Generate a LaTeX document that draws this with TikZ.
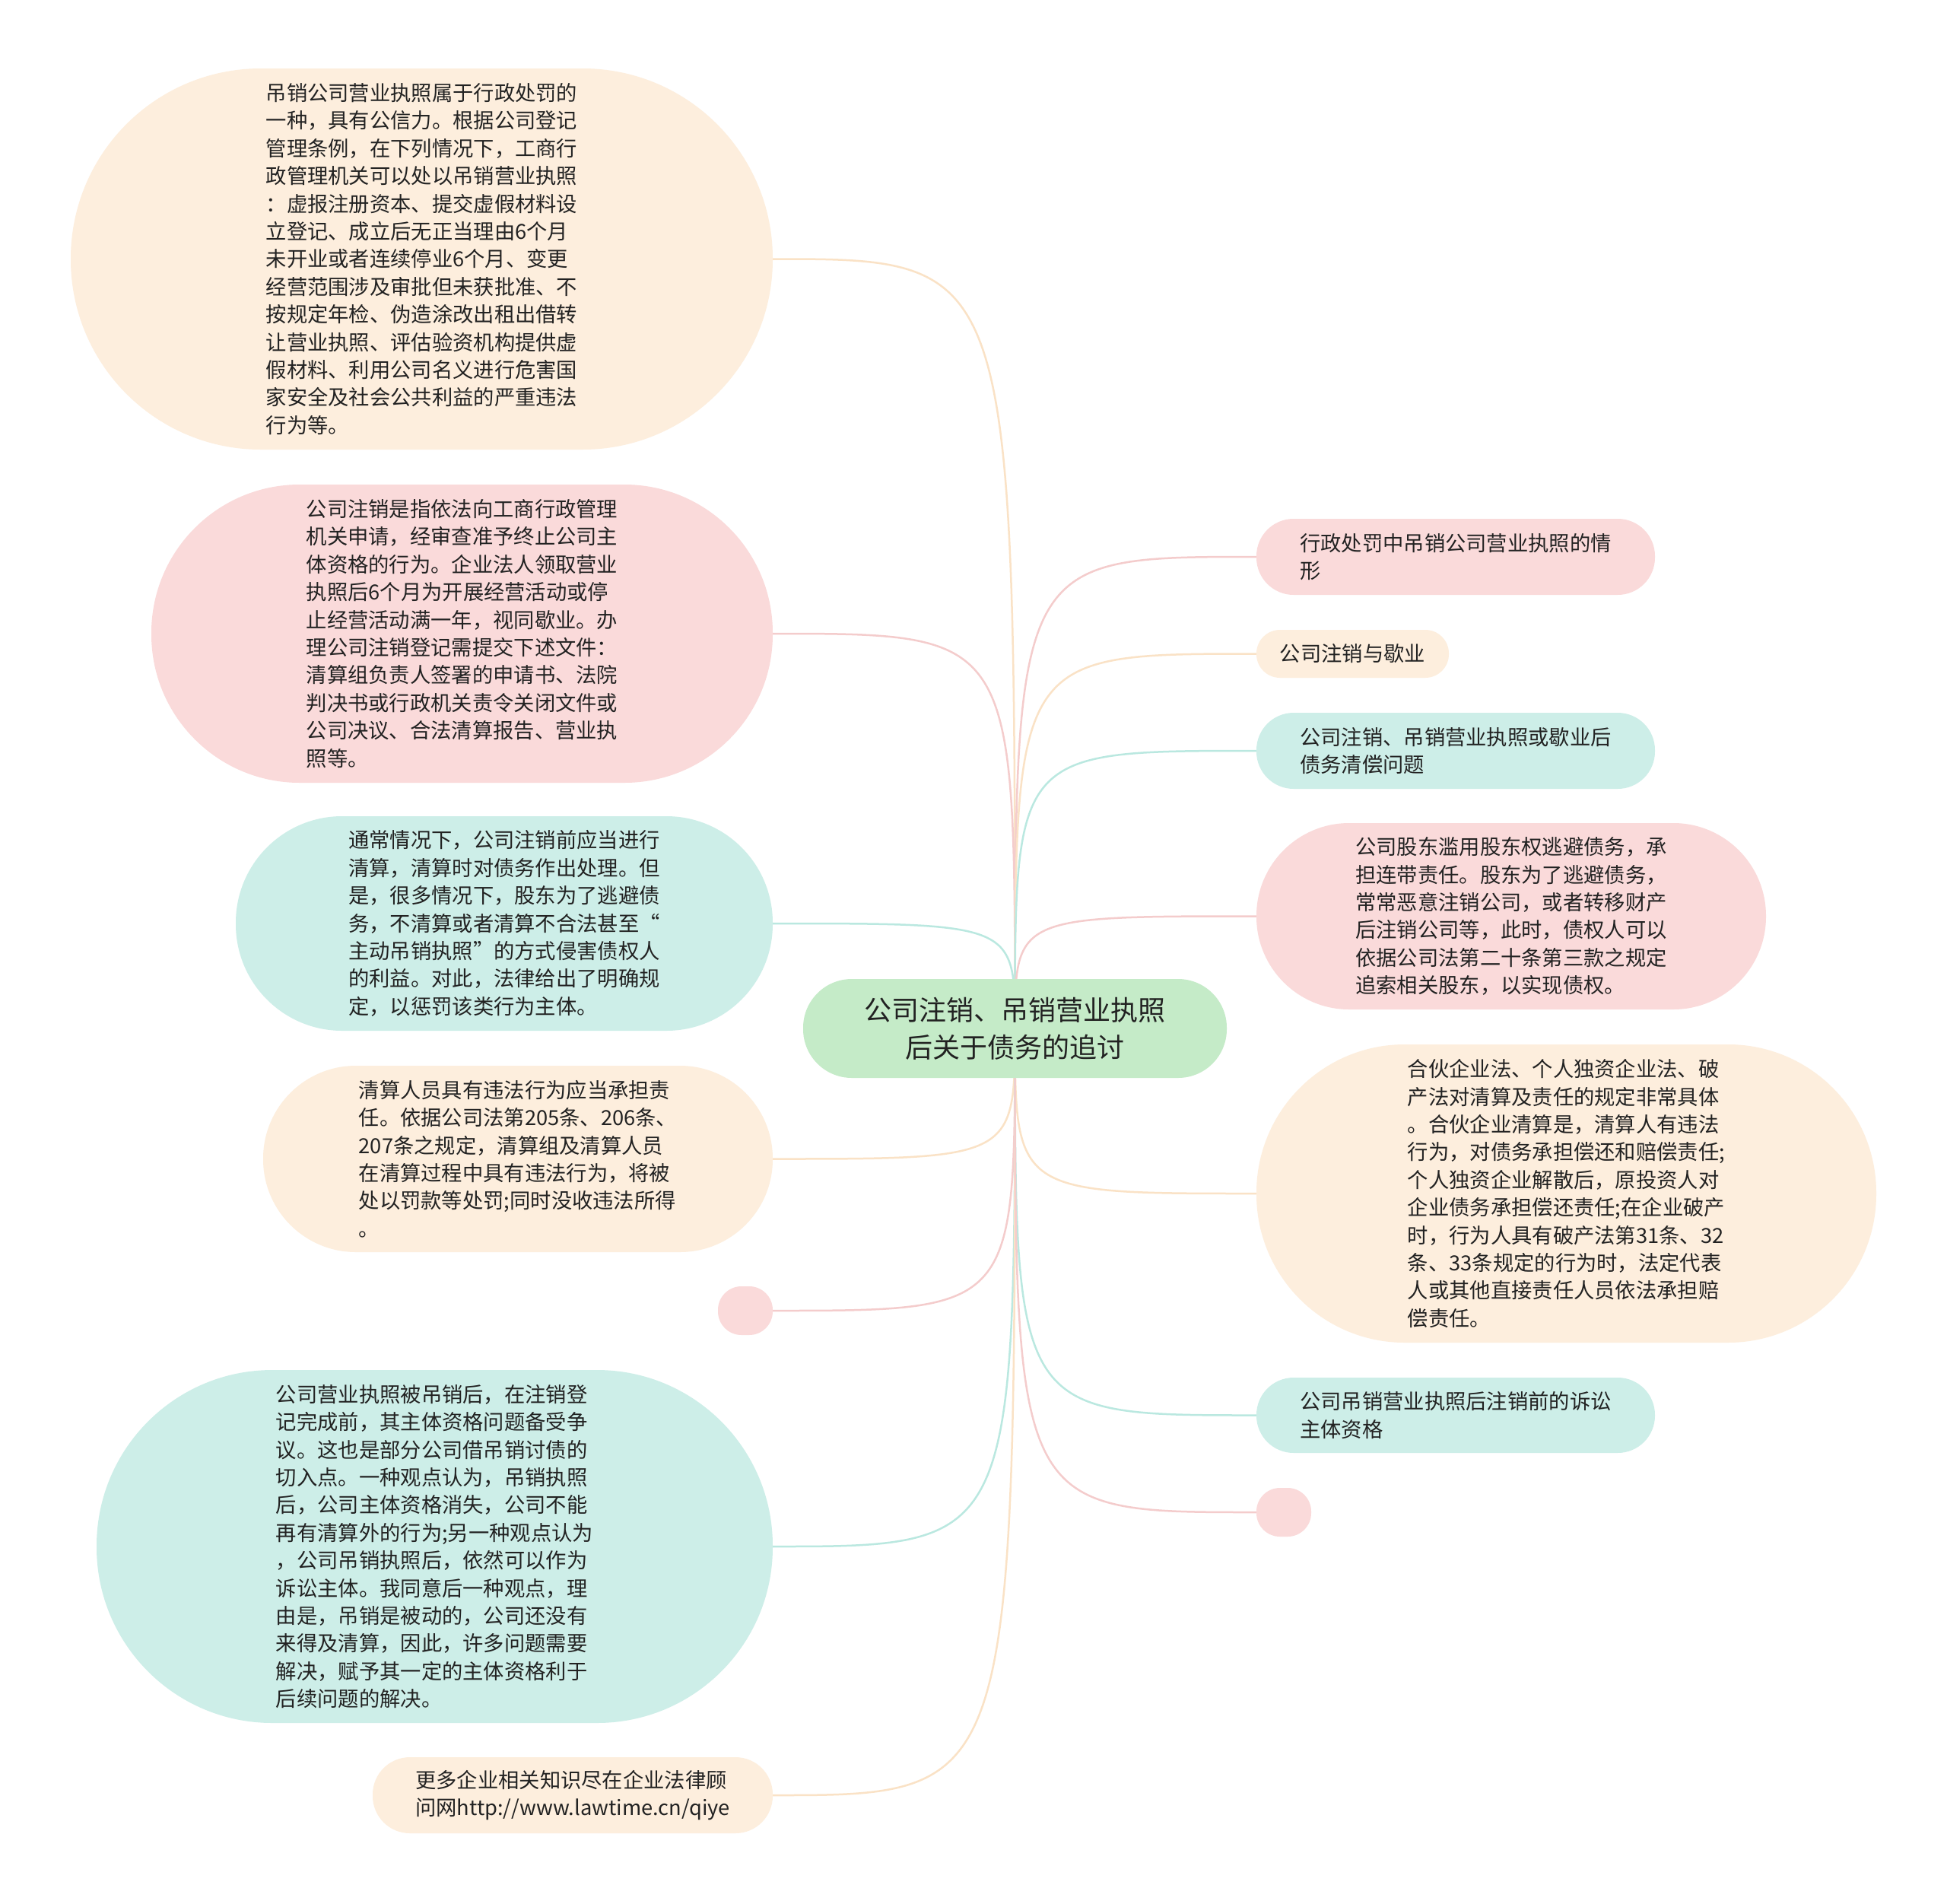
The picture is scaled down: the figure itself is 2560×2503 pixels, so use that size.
\documentclass[tikz,border=0pt]{standalone}
\usepackage{fontspec}
\setmainfont{Noto Sans CJK SC}
\usepackage{tikz}
\usetikzlibrary{backgrounds}
\definecolor{peachfill}{RGB}{253,238,221}
\definecolor{pinkfill}{RGB}{250,218,218}
\definecolor{cyanfill}{RGB}{205,238,232}
\definecolor{rootfill}{RGB}{197,235,200}
\definecolor{peachline}{RGB}{250,226,198}
\definecolor{pinkline}{RGB}{244,204,204}
\definecolor{cyanline}{RGB}{186,232,224}
\definecolor{txtcolor}{RGB}{34,34,34}

\begin{document}
\begin{tikzpicture}[x=1pt,y=-1pt,leaf/.style={align=left,text=txtcolor,inner sep=8pt,font=\fontsize{27.3}{36.4}\selectfont},root/.style={align=center,text=txtcolor,fill=rootfill,inner sep=8pt,font=\fontsize{36}{49}\selectfont},link/.style={line width=2.5pt}]
\useasboundingbox (0,0) rectangle (2560,2503);
% centre
\node[root,minimum width=557pt,minimum height=130pt,rounded corners=64pt](c) at (1334.5,1352){公司注销、吊销营业执照\\后关于债务的追讨};
% left side
\node[leaf,fill=peachfill,minimum width=923pt,minimum height=501pt,rounded corners=250pt](l1) at (554.5,340.5){吊销公司营业执照属于行政处罚的\\一种，具有公信力。根据公司登记\\管理条例，在下列情况下，工商行\\政管理机关可以处以吊销营业执照\\：虚报注册资本、提交虚假材料设\\立登记、成立后无正当理由6个月\\未开业或者连续停业6个月、变更\\经营范围涉及审批但未获批准、不\\按规定年检、伪造涂改出租出借转\\让营业执照、评估验资机构提供虚\\假材料、利用公司名义进行危害国\\家安全及社会公共利益的严重违法\\行为等。};
\node[leaf,fill=pinkfill,minimum width=817pt,minimum height=392pt,rounded corners=195pt](l2) at (607.5,833){公司注销是指依法向工商行政管理\\机关申请，经审查准予终止公司主\\体资格的行为。企业法人领取营业\\执照后6个月为开展经营活动或停\\止经营活动满一年，视同歇业。办\\理公司注销登记需提交下述文件：\\清算组负责人签署的申请书、法院\\判决书或行政机关责令关闭文件或\\公司决议、合法清算报告、营业执\\照等。};
\node[leaf,fill=cyanfill,minimum width=706pt,minimum height=282pt,rounded corners=140pt](l3) at (663,1214){通常情况下，公司注销前应当进行\\清算，清算时对债务作出处理。但\\是，很多情况下，股东为了逃避债\\务，不清算或者清算不合法甚至“\\主动吊销执照”的方式侵害债权人\\的利益。对此，法律给出了明确规\\定，以惩罚该类行为主体。};
\node[leaf,fill=peachfill,minimum width=670pt,minimum height=245pt,rounded corners=122pt](l4) at (681,1523.5){清算人员具有违法行为应当承担责\\任。依据公司法第205条、206条、\\207条之规定，清算组及清算人员\\在清算过程中具有违法行为，将被\\处以罚款等处罚;同时没收违法所得\\。};
\node[fill=pinkfill,minimum width=72pt,minimum height=64pt,rounded corners=31pt,inner sep=0pt](l5) at (980,1723){};
\node[leaf,fill=cyanfill,minimum width=889pt,minimum height=464pt,rounded corners=231pt](l6) at (571.5,2033){公司营业执照被吊销后，在注销登\\记完成前，其主体资格问题备受争\\议。这也是部分公司借吊销讨债的\\切入点。一种观点认为，吊销执照\\后，公司主体资格消失，公司不能\\再有清算外的行为;另一种观点认为\\，公司吊销执照后，依然可以作为\\诉讼主体。我同意后一种观点，理\\由是，吊销是被动的，公司还没有\\来得及清算，因此，许多问题需要\\解决，赋予其一定的主体资格利于\\后续问题的解决。};
\node[leaf,fill=peachfill,minimum width=526pt,minimum height=100pt,rounded corners=49pt](l7) at (753,2360){更多企业相关知识尽在企业法律顾\\问网http://www.lawtime.cn/qiye};
% right side
\node[leaf,fill=pinkfill,minimum width=524pt,minimum height=100pt,rounded corners=49pt](r1) at (1914,732){行政处罚中吊销公司营业执照的情\\形};
\node[leaf,fill=peachfill,minimum width=253pt,minimum height=63pt,rounded corners=31pt](r2) at (1778.5,859.5){公司注销与歇业};
\node[leaf,fill=cyanfill,minimum width=524pt,minimum height=100pt,rounded corners=49pt](r3) at (1914,987){公司注销、吊销营业执照或歇业后\\债务清偿问题};
\node[leaf,fill=pinkfill,minimum width=670pt,minimum height=245pt,rounded corners=122pt](r4) at (1987,1204.5){公司股东滥用股东权逃避债务，承\\担连带责任。股东为了逃避债务，\\常常恶意注销公司，或者转移财产\\后注销公司等，此时，债权人可以\\依据公司法第二十条第三款之规定\\追索相关股东，以实现债权。};
\node[leaf,fill=peachfill,minimum width=815pt,minimum height=392pt,rounded corners=195pt](r5) at (2059.5,1569){合伙企业法、个人独资企业法、破\\产法对清算及责任的规定非常具体\\。合伙企业清算是，清算人有违法\\行为，对债务承担偿还和赔偿责任;\\个人独资企业解散后，原投资人对\\企业债务承担偿还责任;在企业破产\\时，行为人具有破产法第31条、32\\条、33条规定的行为时，法定代表\\人或其他直接责任人员依法承担赔\\偿责任。};
\node[leaf,fill=cyanfill,minimum width=524pt,minimum height=99pt,rounded corners=49pt](r6) at (1914,1860.5){公司吊销营业执照后注销前的诉讼\\主体资格};
\node[fill=pinkfill,minimum width=72pt,minimum height=64pt,rounded corners=31pt,inner sep=0pt](r7) at (1688,1988){};
% links behind the nodes
\begin{scope}[on background layer]
\fill[white](0,0)rectangle(2560,2503);
\draw[link,peachline](c.center)..controls(c.center|-l1.east)..(l1.east); \draw[link,pinkline](c.center)..controls(c.center|-l2.east)..(l2.east);
\draw[link,cyanline](c.center)..controls(c.center|-l3.east)..(l3.east); \draw[link,peachline](c.center)..controls(c.center|-l4.east)..(l4.east);
\draw[link,pinkline](c.center)..controls(c.center|-l5.east)..(l5.east); \draw[link,cyanline](c.center)..controls(c.center|-l6.east)..(l6.east);
\draw[link,peachline](c.center)..controls(c.center|-l7.east)..(l7.east);
\draw[link,pinkline](c.center)..controls(c.center|-r1.west)..(r1.west); \draw[link,peachline](c.center)..controls(c.center|-r2.west)..(r2.west);
\draw[link,cyanline](c.center)..controls(c.center|-r3.west)..(r3.west); \draw[link,pinkline](c.center)..controls(c.center|-r4.west)..(r4.west);
\draw[link,peachline](c.center)..controls(c.center|-r5.west)..(r5.west); \draw[link,cyanline](c.center)..controls(c.center|-r6.west)..(r6.west);
\draw[link,pinkline](c.center)..controls(c.center|-r7.west)..(r7.west);
\end{scope}
\end{tikzpicture}
\end{document}
